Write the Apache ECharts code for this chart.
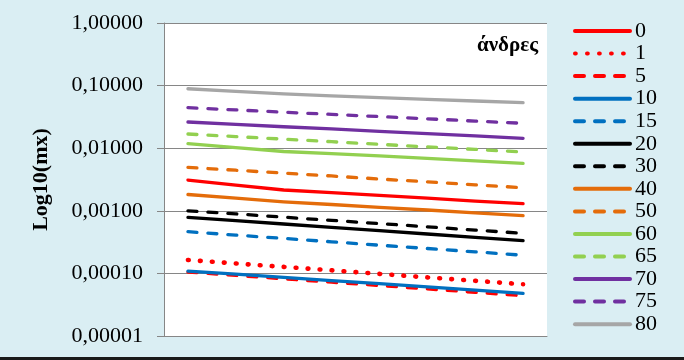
<!DOCTYPE html>
<html>
<head>
<meta charset="utf-8">
<script src="https://cdn.jsdelivr.net/npm/echarts@6/dist/echarts.min.js"></script>
<style>
html,body{margin:0;padding:0;background:#DAEEF3;}
#c{width:684px;height:360px;}
</style>
</head>
<body>
<div id="c"></div>
<script>
// Categories (8 time points, labels hidden in the reference)
const categories = ['1', '2', '3', '4', '5', '6', '7', '8'];

// Series values (mx)
const s0  = [0.00310, 0.00258, 0.00215, 0.00195, 0.00176, 0.00159, 0.00143, 0.00130];
const s1  = [0.000164, 0.000144, 0.000127, 0.000112, 0.0000982, 0.0000863, 0.0000762, 0.0000670];
const s5  = [0.000105, 0.0000929, 0.0000820, 0.0000723, 0.0000641, 0.0000565, 0.0000499, 0.0000440];
const s10 = [0.000109, 0.0000971, 0.0000863, 0.0000767, 0.0000684, 0.0000608, 0.0000541, 0.0000481];
const s15 = [0.000464, 0.000409, 0.000362, 0.000320, 0.000282, 0.000250, 0.000221, 0.000195];
const s20 = [0.000787, 0.000697, 0.000615, 0.000545, 0.000481, 0.000426, 0.000376, 0.000333];
const s30 = [0.00100, 0.000892, 0.000791, 0.000703, 0.000625, 0.000555, 0.000492, 0.000437];
const s40 = [0.00182, 0.00159, 0.00139, 0.00126, 0.00113, 0.00103, 0.000925, 0.000835];
const s50 = [0.00495, 0.00445, 0.00400, 0.00360, 0.00322, 0.00290, 0.00260, 0.00234];
const s60 = [0.01181, 0.01019, 0.00886, 0.00817, 0.00754, 0.00690, 0.00629, 0.00574];
const s65 = [0.01686, 0.01532, 0.01397, 0.01270, 0.01154, 0.01049, 0.00957, 0.00869];
const s70 = [0.0262, 0.0241, 0.0220, 0.0203, 0.0186, 0.0171, 0.0157, 0.0144];
const s75 = [0.0444, 0.0409, 0.0376, 0.0347, 0.0320, 0.0295, 0.0271, 0.0250];
const s80 = [0.0891, 0.0811, 0.0735, 0.0684, 0.0643, 0.0604, 0.0568, 0.0533];

// Series names (legend labels)
const seriesNames = ['0', '1', '5', '10', '15', '20', '30', '40', '50', '60', '65', '70', '75', '80'];
const seriesData = [s0, s1, s5, s10, s15, s20, s30, s40, s50, s60, s65, s70, s75, s80];

// Y tick values
const yTicks = [0.00001, 0.0001, 0.001, 0.01, 0.1, 1];

const title = 'άνδρες';
const yName = 'Log10(mx)';

const RED = '#FF0000', BLUE = '#0070C0', BLACK = '#000000', ORANGE = '#E46C0A',
      GREEN = '#92D050', PURPLE = '#7030A0', GRAY = '#A6A6A6';
const DASH = [9, 11];
const DOT = [0.8, 11.2];
const styles = [
  {c: RED, t: 'solid'}, {c: RED, t: DOT, w: 4.6}, {c: RED, t: DASH},
  {c: BLUE, t: 'solid'}, {c: BLUE, t: DASH},
  {c: BLACK, t: 'solid'}, {c: BLACK, t: DASH},
  {c: ORANGE, t: 'solid'}, {c: ORANGE, t: DASH},
  {c: GREEN, t: 'solid'}, {c: GREEN, t: DASH},
  {c: PURPLE, t: 'solid'}, {c: PURPLE, t: DASH},
  {c: GRAY, t: 'solid'}
];

const FONT = '"Liberation Serif", "DejaVu Serif", serif';

const series = seriesNames.map((n, i) => ({
  name: n,
  type: 'line',
  data: seriesData[i],
  symbol: 'none',
  showSymbol: false,
  smooth: false,
  silent: true,
  animation: false,
  color: styles[i].c,
  lineStyle: {
    color: styles[i].c,
    width: styles[i].w || 3.3,
    type: styles[i].t,
    cap: 'round',
    join: 'round'
  }
}));

const chart = echarts.init(document.getElementById('c'), null, {renderer: 'canvas'});
chart.setOption({
  backgroundColor: '#DAEEF3',
  animation: false,
  title: {
    text: title,
    right: 141,
    top: 30,
    textStyle: {fontFamily: FONT, fontWeight: 'bold', fontSize: 21, color: '#000'}
  },
  grid: {
    left: 164, right: 137, top: 23, bottom: 24,
    show: true, backgroundColor: '#FFFFFF', borderWidth: 0
  },
  legend: {
    orient: 'vertical',
    left: 573,
    top: 20,
    bottom: 0,
    padding: 0,
    itemWidth: 55,
    itemHeight: 14,
    itemGap: 0.55,
    itemStyle: {opacity: 0},
    lineStyle: {width: 4, cap: 'round'},
    textStyle: {fontFamily: FONT, fontSize: 22, color: '#000'},
    data: seriesNames
  },
  xAxis: {
    type: 'category',
    data: categories,
    boundaryGap: true,
    axisLine: {show: true, lineStyle: {color: '#868686', width: 1}},
    axisTick: {show: false},
    axisLabel: {show: false},
    splitLine: {show: false}
  },
  yAxis: {
    type: 'log',
    logBase: 10,
    min: yTicks[0],
    max: yTicks[yTicks.length - 1],
    name: yName,
    nameLocation: 'middle',
    nameGap: 112,
    nameRotate: 90,
    nameTextStyle: {fontFamily: FONT, fontWeight: 'bold', fontSize: 22, color: '#000'},
    axisLine: {show: true, lineStyle: {color: '#868686', width: 1}},
    axisTick: {show: true, inside: false, length: 7, lineStyle: {color: '#868686'}},
    axisLabel: {
      margin: 21,
      fontFamily: FONT,
      fontSize: 22,
      color: '#000',
      formatter: v => Number(v).toFixed(5).replace('.', ',')
    },
    splitLine: {show: true, lineStyle: {color: '#868686', width: 1}}
  },
  graphic: [{
    type: 'rect',
    shape: {x: 0, y: 357, width: 684, height: 3},
    style: {fill: '#1a1a1a'},
    silent: true
  }],
  series: series
});
</script>
</body>
</html>
